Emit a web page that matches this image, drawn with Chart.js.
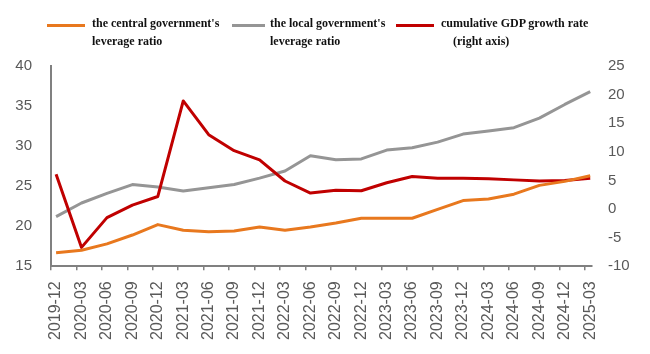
<!DOCTYPE html>
<html>
<head>
<meta charset="utf-8">
<script src="https://cdn.jsdelivr.net/npm/chart.js@4/dist/chart.umd.min.js"></script>
<style>
  html, body { margin: 0; padding: 0; background: #fff; }
  #wrap { position: relative; width: 650px; height: 354px; }
  #legend { position: absolute; left: 0; top: 0; width: 650px; height: 60px;
    font: bold 12px "Liberation Serif", "Times New Roman", serif; color: #111; }
  .swatch { position: absolute; top: 24px; height: 3px; }
  .txt { position: absolute; top: 14px; line-height: 18px; white-space: nowrap; }
</style>
</head>
<body>
<div id="wrap">
  <canvas id="chart" width="650" height="354"></canvas>
  <div id="legend"></div>
</div>
<script>
// quarterly categories
const categories = [
  "2019-12", "2020-03", "2020-06", "2020-09", "2020-12", "2021-03",
  "2021-06", "2021-09", "2021-12", "2022-03", "2022-06", "2022-09",
  "2022-12", "2023-03", "2023-06", "2023-09", "2023-12", "2024-03",
  "2024-06", "2024-09", "2024-12", "2025-03"
];

// left axis (%)
const centralLeverage = [16.7, 17.0, 17.8, 18.9, 20.2, 19.5, 19.3, 19.4, 19.9, 19.5, 19.9,
  20.4, 21.0, 21.0, 21.0, 22.1, 23.2, 23.4, 24.0, 25.1, 25.6, 26.3];
const localLeverage = [21.2, 22.9, 24.1, 25.2, 24.9, 24.4, 24.8, 25.2, 26.0, 26.9, 28.8,
  28.3, 28.4, 29.5, 29.8, 30.5, 31.5, 31.9, 32.3, 33.5, 35.2, 36.8];

// right axis (%)
const gdpGrowth = [6.1, -6.7, -1.5, 0.7, 2.2, 18.9, 13.0, 10.2, 8.6, 4.9, 2.8,
  3.3, 3.2, 4.6, 5.7, 5.4, 5.4, 5.3, 5.1, 4.9, 5.0, 5.4];

const seriesNames = [
  ["the central government's", "leverage ratio"],
  ["the local government's", "leverage ratio"],
  ["cumulative GDP growth rate", "(right axis)"]
];

const colors = ["#E8781E", "#959595", "#C00000"];
const axisColor = "#808080";
const tickColor = "#595959";

const toPoints = (arr) => arr.map((v, i) => ({ x: i, y: v }));

// legend drawn as html so the two-line labels sit like the original
const legendPos = [
  { sx: 47, sw: 38, tx: 92, indent: 0 },
  { sx: 232, sw: 33, tx: 270, indent: 0 },
  { sx: 396, sw: 38, tx: 441, indent: 12 }
];
const legendEl = document.getElementById("legend");
seriesNames.forEach((lines, i) => {
  const p = legendPos[i];
  const sw = document.createElement("div");
  sw.className = "swatch";
  sw.style.left = p.sx + "px";
  sw.style.width = p.sw + "px";
  sw.style.background = colors[i];
  legendEl.appendChild(sw);
  const t = document.createElement("div");
  t.className = "txt";
  t.style.left = p.tx + "px";
  t.innerHTML = lines[0] + "<br><span style=\"padding-left:" + p.indent + "px\">" + lines[1] + "</span>";
  legendEl.appendChild(t);
});

const ctx = document.getElementById("chart").getContext("2d");
new Chart(ctx, {
  type: "line",
  data: {
    datasets: [
      {
        label: seriesNames[0].join(" "),
        data: toPoints(centralLeverage),
        borderColor: colors[0],
        yAxisID: "y",
        order: 0
      },
      {
        label: seriesNames[1].join(" "),
        data: toPoints(localLeverage),
        borderColor: colors[1],
        yAxisID: "y",
        order: 2
      },
      {
        label: seriesNames[2].join(" "),
        data: toPoints(gdpGrowth),
        borderColor: colors[2],
        yAxisID: "y1",
        order: 1
      }
    ]
  },
  options: {
    responsive: false,
    animation: false,
    layout: { padding: { top: 66, left: 15, right: 20, bottom: 3 } },
    elements: {
      point: { radius: 0 },
      line: { borderWidth: 3, tension: 0, borderJoinStyle: "round" }
    },
    plugins: {
      legend: { display: false },
      tooltip: { enabled: false }
    },
    scales: {
      x: {
        type: "linear",
        min: -0.2,
        max: 21.07,
        afterBuildTicks: (scale) => {
          // tick marks sit a little left of each point, like the source
          scale.ticks = categories.map((_, i) => ({ value: i - 0.2 }));
        },
        afterFit: (scale) => {
          scale.paddingLeft = 0;
          scale.paddingRight = 0;
        },
        grid: {
          display: true,
          drawOnChartArea: false,
          drawTicks: true,
          tickLength: 4,
          color: axisColor,
          lineWidth: 1.5
        },
        border: { display: true, color: axisColor, width: 2 },
        ticks: {
          autoSkip: false,
          minRotation: 90,
          maxRotation: 90,
          padding: 11,
          labelOffset: 5,
          color: tickColor,
          font: { family: "'Liberation Sans', Arial, sans-serif", size: 16 },
          callback: (v, idx) => categories[idx]
        }
      },
      y: {
        position: "left",
        min: 15,
        max: 40,
        afterFit: (scale) => { scale.width = 36; },
        grid: { display: false, drawTicks: false },
        border: { display: true, color: axisColor, width: 2 },
        ticks: {
          stepSize: 5,
          padding: 19,
          color: tickColor,
          font: { family: "'Liberation Sans', Arial, sans-serif", size: 15 }
        }
      },
      y1: {
        position: "right",
        min: -10,
        max: 25,
        afterFit: (scale) => { scale.width = 38; },
        grid: { display: false, drawTicks: false },
        border: { display: false },
        ticks: {
          stepSize: 5,
          padding: 16,
          color: tickColor,
          font: { family: "'Liberation Sans', Arial, sans-serif", size: 15 }
        }
      }
    }
  }
});
</script>
</body>
</html>
